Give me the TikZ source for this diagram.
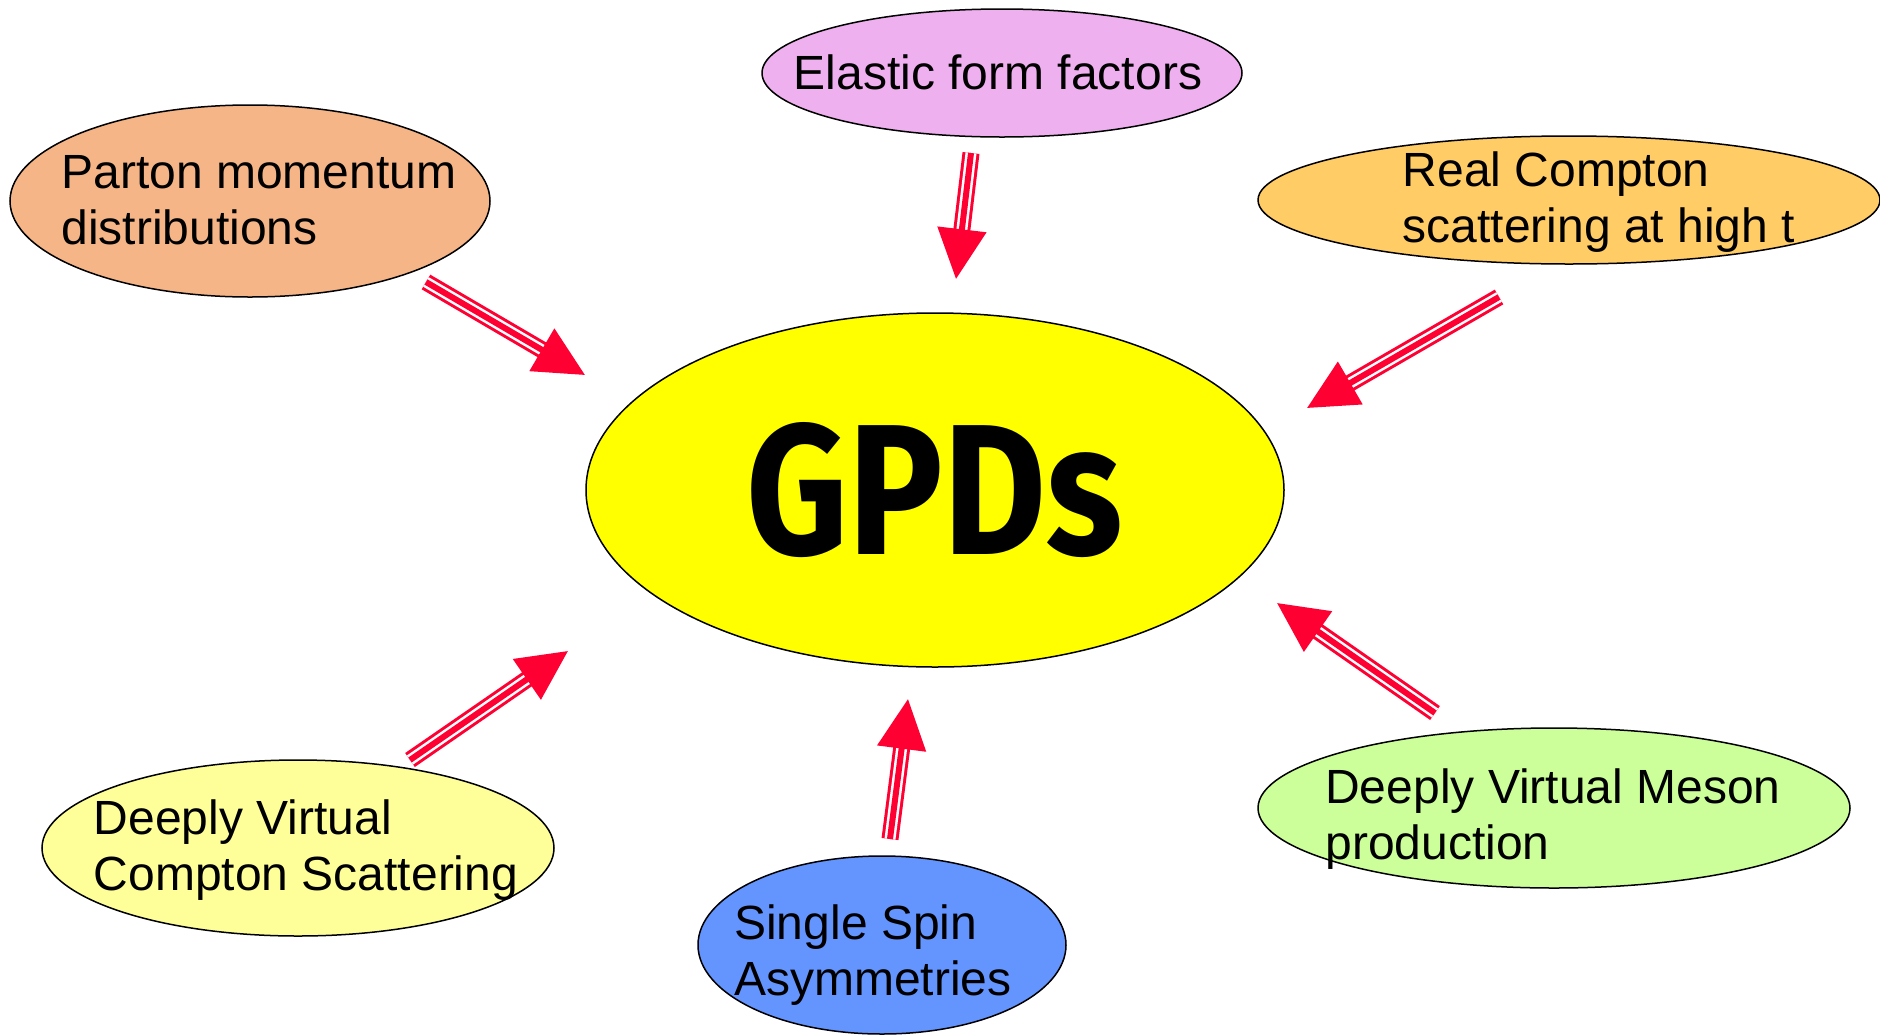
\documentclass[tikz,border=0pt]{standalone}
\usepackage{fontspec}
\setmainfont{Liberation Sans}
\newfontfamily\gpdfont{Fira Sans}
\usetikzlibrary{shapes.geometric,arrows.meta}
\definecolor{arrred}{HTML}{FF0033}
\definecolor{cElastic}{HTML}{EEB0EE}
\definecolor{cParton}{HTML}{F5B587}
\definecolor{cReal}{HTML}{FFCC66}
\definecolor{cGPD}{HTML}{FFFF00}
\definecolor{cDVCS}{HTML}{FFFF99}
\definecolor{cSSA}{HTML}{6495FF}
\definecolor{cDVMP}{HTML}{CCFF99}
\newcommand{\gpdarrow}[2]{%
  \draw[line width=17pt, arrred, shorten >=47pt] (#1) -- (#2);
  \draw[line width=11pt, white, shorten >=47pt] (#1) -- (#2);
  \draw[line width=6pt, arrred, -{Triangle[length=50pt,width=48pt]}] (#1) -- (#2);
}
\tikzset{
  bubble/.style={ellipse, draw=black, line width=1.5pt, inner sep=0pt},
  btext/.style={font=\fontsize{48}{56}\selectfont, align=left, inner sep=0pt, text=black},
}
\begin{document}
\begin{tikzpicture}[x=1pt,y=-1pt]
\useasboundingbox (0,0) rectangle (1880,1034);
% ellipses
\node[bubble, fill=cElastic, minimum width=480pt, minimum height=128pt] (elastic) at (1002,73) {};
\node[bubble, fill=cParton, minimum width=480pt, minimum height=192pt] (parton) at (250,201) {};
\node[bubble, fill=cReal, minimum width=622pt, minimum height=128pt] (real) at (1569,200) {};
\node[bubble, fill=cGPD, minimum width=698pt, minimum height=354pt] (gpd) at (935,490) {};
\node[bubble, fill=cDVCS, minimum width=512pt, minimum height=176pt] (dvcs) at (298,848) {};
\node[bubble, fill=cSSA, minimum width=368pt, minimum height=178pt] (ssa) at (882,945) {};
\node[bubble, fill=cDVMP, minimum width=592pt, minimum height=160pt] (dvmp) at (1554,808) {};
% texts
\node[btext] (elasticT) at (998,72) {Elastic form factors};
\node[btext] (partonT) at (259,200) {Parton momentum\\distributions};
\node[btext] (realT) at (1599,202) {Real Compton\\scattering at high t};
\node[btext] (dvcsT) at (306,850) {Deeply Virtual\\Compton Scattering};
\node[btext] (ssaT) at (873,955) {Single Spin\\Asymmetries};
\node[btext] (dvmpT) at (1553,819) {Deeply Virtual Meson\\production};
\node[inner sep=0pt, text=black] (gpdT) at (935,490) {\scalebox{0.85}[1]{\gpdfont\bfseries\fontsize{186}{186}\selectfont GPDs}};
% arrow end points
\coordinate (a1s) at (426,282); \coordinate (a1e) at (585,375);
\coordinate (a2s) at (971,153); \coordinate (a2e) at (956,279);
\coordinate (a3s) at (1499,297); \coordinate (a3e) at (1307,408);
\coordinate (a4s) at (1435,713); \coordinate (a4e) at (1277,603);
\coordinate (a5s) at (890,839); \coordinate (a5e) at (908,699);
\coordinate (a6s) at (410,760); \coordinate (a6e) at (568,651);
\gpdarrow{a1s}{a1e}
\gpdarrow{a2s}{a2e}
\gpdarrow{a3s}{a3e}
\gpdarrow{a4s}{a4e}
\gpdarrow{a5s}{a5e}
\gpdarrow{a6s}{a6e}
\end{tikzpicture}
\end{document}
